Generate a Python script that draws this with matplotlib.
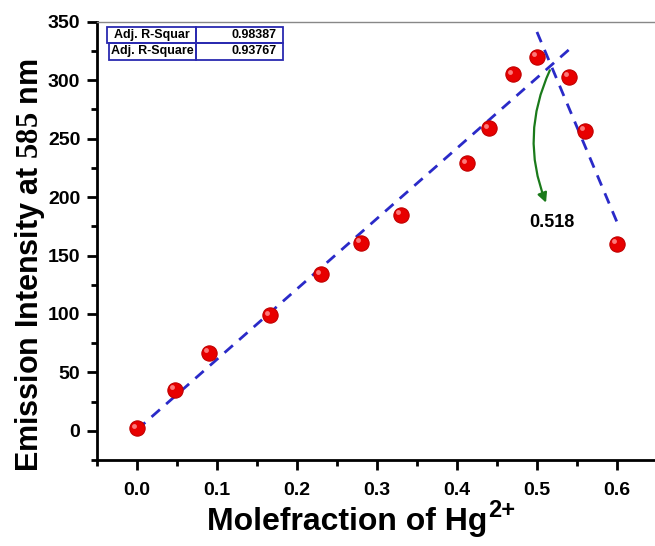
import numpy as np
import matplotlib
matplotlib.use("Agg")
import matplotlib.pyplot as plt
import matplotlib.transforms as mtransforms
from matplotlib.patches import Rectangle

plt.rcParams["font.family"] = ["Liberation Sans", "DejaVu Sans"]
plt.rcParams["font.weight"] = "bold"
plt.rcParams["mathtext.fontset"] = "custom"
plt.rcParams["mathtext.rm"] = "Liberation Serif"
plt.rcParams["mathtext.bf"] = "Liberation Sans:bold"

# mole fraction of Hg2+ and emission intensity at 585 nm
mole_frac = [0.0, 0.047, 0.09, 0.166, 0.23, 0.28, 0.33, 0.412, 0.44, 0.47, 0.50, 0.54, 0.56, 0.60]
intensity = [2, 35, 67, 99, 134, 161, 185, 229, 259, 305, 320, 303, 257, 160]

# which points go into each linear fit
rise_idx = list(range(0, 11))
fall_idx = [10, 11, 12, 13]
rise_span = [0.0, 0.545]
fall_span = [0.50, 0.60]

fit_names = ["Adj. R-Squar", "Adj. R-Square"]
fit_r2 = ["0.98387", "0.93767"]
cross_label = "0.518"

x = np.array(mole_frac)
y = np.array(intensity)

fig = plt.figure(figsize=(6.55, 5.46), dpi=100)
ax = fig.add_axes([0.148, 0.1575, 0.855, 0.8025])

p1 = np.polyfit(x[rise_idx], y[rise_idx], 1)
p2 = np.polyfit(x[fall_idx], y[fall_idx], 1)
xr = np.linspace(rise_span[0], rise_span[1], 50)
xf = np.linspace(fall_span[0], fall_span[1], 50)
ax.plot(xr, np.polyval(p1, xr), color="#2a2ac8", lw=2, dashes=(4, 3), zorder=2)
ax.plot(xf, np.polyval(p2, xf), color="#2a2ac8", lw=2, dashes=(4, 3), zorder=2)

# red balls with a small highlight
ax.plot(x, y, "o", ms=11, color="#e80000", mec="#c00000", mew=0.8, zorder=3)
shift = mtransforms.ScaledTranslation(-1.8 / 72, 1.8 / 72, fig.dpi_scale_trans)
ax.plot(x, y, "o", ms=3.5, color="#ff9090", mew=0, alpha=0.85,
        transform=ax.transData + shift, zorder=4)

# crossing point of the two fits
xc = (p2[1] - p1[1]) / (p1[0] - p2[0])
yc = np.polyval(p1, xc)
ax.annotate("", xy=(xc - 0.005, 193), xytext=(xc, yc - 2),
            arrowprops=dict(arrowstyle="-|>", color="#1a7a1a", lw=1.6,
                            connectionstyle="arc3,rad=0.22", mutation_scale=14))
ax.text(xc + 0.001, 178, cross_label, ha="center", va="center", fontsize=13, fontweight="bold")

# fit statistics box
rows_y = [(0.952, 0.989), (0.913, 0.952)]
rows_x = [(0.018, 0.177, 0.332), (0.022, 0.177, 0.332)]
for (y0, y1), (xa, xb, xe), name, val in zip(rows_y, rows_x, fit_names, fit_r2):
    for left, right in [(xa, xb), (xb, xe)]:
        ax.add_patch(Rectangle((left, y0), right - left, y1 - y0, transform=ax.transAxes,
                               fill=False, ec="#2a2ab0", lw=1.3, zorder=5))
    ax.text((xa + xb) / 2, (y0 + y1) / 2, name, transform=ax.transAxes, ha="center",
            va="center", fontsize=9, fontweight="bold")
    ax.text(xe - 0.012, (y0 + y1) / 2, val, transform=ax.transAxes, ha="right",
            va="center", fontsize=9, fontweight="bold")

ax.set_xlim(-0.05, 0.65)
ax.set_ylim(-25, 350)
ax.set_xticks(np.arange(0, 0.61, 0.1))
ax.set_xticks(np.arange(-0.05, 0.65, 0.05), minor=True)
ax.set_yticks(np.arange(0, 351, 50))
ax.set_yticks(np.arange(-25, 351, 25), minor=True)
ax.xaxis.set_major_formatter(matplotlib.ticker.FormatStrFormatter("%.1f"))
ax.tick_params(which="major", length=7, width=2, labelsize=14)
ax.tick_params(axis="x", which="major", pad=9)
ax.tick_params(axis="y", which="major", pad=5)
ax.tick_params(which="minor", length=4, width=2)
for lab in ax.get_xticklabels() + ax.get_yticklabels():
    lab.set_fontweight("bold")

for s in ["left", "bottom"]:
    ax.spines[s].set_linewidth(2)
ax.spines["top"].set_linewidth(1)
ax.spines["top"].set_color("#888888")
ax.spines["right"].set_visible(False)

ax.set_xlabel("Molefraction of Hg", fontsize=23, fontweight="bold")
ax.xaxis.set_label_coords(0.446, -0.108)
ax.annotate("2+", xy=(1.0, 1.0), xycoords=ax.xaxis.label, xytext=(1, 6),
            textcoords="offset points", ha="left", va="top",
            fontsize=17, fontweight="bold")

ax.set_ylabel(r"Emission Intensity at $\mathrm{585}$ nm", fontsize=22, fontweight="bold")
ax.yaxis.set_label_coords(-0.09, 0.445)

fig.savefig("out.png", dpi=100)
